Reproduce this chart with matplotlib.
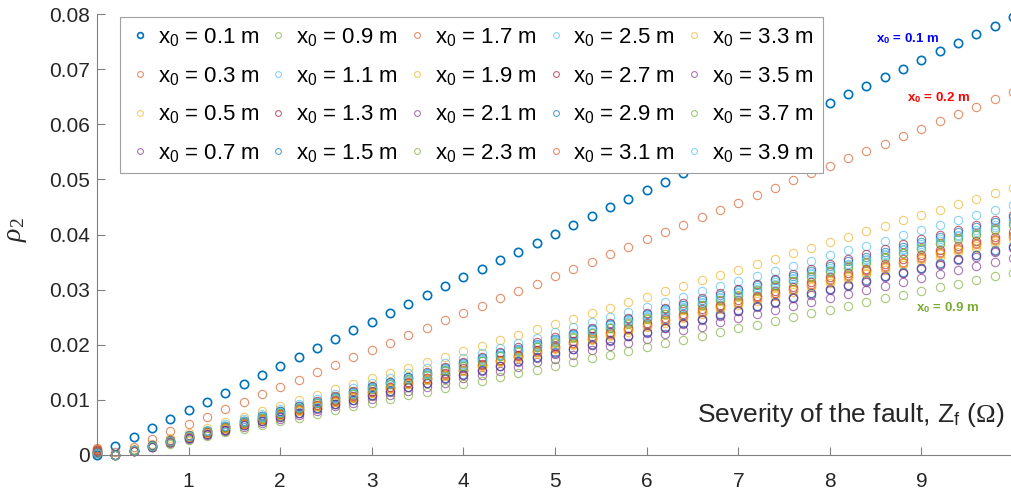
import numpy as np
import matplotlib
matplotlib.use("Agg")
import matplotlib.pyplot as plt

plt.rcParams["font.family"] = ["Liberation Sans", "DejaVu Sans"]
plt.rcParams["mathtext.fontset"] = "custom"
plt.rcParams["mathtext.rm"] = "Liberation Serif"
plt.rcParams["mathtext.it"] = "Liberation Serif:italic"
plt.rcParams["mathtext.sf"] = "Liberation Sans"
plt.rcParams["mathtext.bf"] = "Liberation Sans:bold"

# fault impedance Z_f (ohm)
z_f = [0, 0.2, 0.4, 0.6, 0.8, 1.0, 1.2, 1.4, 1.6, 1.8, 2.0, 2.2, 2.4, 2.6, 2.8,
       3.0, 3.2, 3.4, 3.6, 3.8, 4.0, 4.2, 4.4, 4.6, 4.8, 5.0, 5.2, 5.4, 5.6, 5.8,
       6.0, 6.2, 6.4, 6.6, 6.8, 7.0, 7.2, 7.4, 7.6, 7.8, 8.0, 8.2, 8.4, 8.6, 8.8,
       9.0, 9.2, 9.4, 9.6, 9.8, 10.0]

# rho_2 values, in units of 1e-4
rho_01 = [0, 16, 32, 49, 65, 81, 97, 113, 129, 145, 161, 177, 194, 210, 226, 242, 258, 274, 290, 306, 322, 338, 353, 369, 385, 401, 417, 433, 449, 465, 481, 496, 512, 528, 544, 560, 575, 591, 607, 623, 638, 654, 670, 686, 701, 717, 732, 748, 764, 779, 795]
rho_03 = [12, 6, 15, 29, 43, 56, 69, 83, 96, 110, 123, 136, 150, 163, 177, 190, 203, 217, 230, 244, 257, 270, 284, 297, 311, 324, 337, 351, 364, 378, 391, 404, 418, 431, 445, 458, 471, 485, 498, 512, 525, 538, 552, 565, 579, 592, 605, 619, 632, 646, 659]
rho_05 = [8, 0, 10, 20, 30, 40, 49, 59, 69, 79, 89, 99, 109, 119, 129, 139, 148, 158, 168, 178, 188, 198, 208, 218, 228, 238, 247, 257, 267, 277, 287, 297, 307, 317, 327, 336, 346, 356, 366, 376, 386, 396, 406, 416, 426, 435, 445, 455, 465, 475, 485]
rho_07 = [5, 0, 7, 15, 22, 29, 36, 44, 51, 58, 66, 73, 80, 88, 95, 102, 109, 117, 124, 131, 139, 146, 153, 160, 168, 175, 182, 190, 197, 204, 211, 219, 226, 233, 241, 248, 255, 263, 270, 277, 284, 292, 299, 306, 314, 321, 328, 335, 343, 350, 357]
rho_09 = [4, 0, 7, 14, 20, 27, 34, 41, 47, 54, 61, 68, 74, 81, 88, 95, 101, 108, 115, 122, 128, 135, 142, 149, 155, 162, 169, 176, 182, 189, 196, 203, 209, 216, 223, 230, 236, 243, 250, 257, 263, 270, 277, 284, 290, 297, 304, 311, 317, 324, 331]
rho_11 = [7, 0, 9, 19, 28, 37, 46, 56, 65, 74, 83, 93, 102, 111, 121, 130, 139, 148, 158, 167, 176, 185, 195, 204, 213, 223, 232, 241, 250, 260, 269, 278, 287, 297, 306, 315, 324, 334, 343, 352, 362, 371, 380, 389, 399, 408, 417, 426, 436, 445, 454]
rho_13 = [9, 0, 9, 18, 27, 36, 44, 53, 62, 71, 80, 89, 98, 107, 116, 125, 133, 142, 151, 160, 169, 178, 187, 196, 205, 214, 222, 231, 240, 249, 258, 267, 276, 285, 294, 302, 311, 320, 329, 338, 347, 356, 365, 374, 383, 391, 400, 409, 418, 427, 436]
rho_15 = [6, 0, 9, 18, 26, 35, 44, 53, 62, 70, 79, 88, 97, 106, 114, 123, 132, 141, 149, 158, 167, 176, 185, 193, 202, 211, 220, 229, 237, 246, 255, 264, 273, 281, 290, 299, 308, 317, 325, 334, 343, 352, 360, 369, 378, 387, 396, 404, 413, 422, 431]
rho_17 = [10, 0, 8, 16, 24, 33, 41, 49, 57, 65, 73, 81, 89, 98, 106, 114, 122, 130, 138, 146, 154, 163, 171, 179, 187, 195, 203, 211, 219, 228, 236, 244, 252, 260, 268, 276, 284, 293, 301, 309, 317, 325, 333, 341, 349, 358, 366, 374, 382, 390, 398]
rho_19 = [5, 0, 8, 16, 24, 32, 40, 48, 56, 64, 72, 80, 88, 96, 104, 112, 120, 128, 136, 144, 152, 160, 168, 176, 184, 192, 200, 208, 216, 224, 232, 240, 248, 256, 264, 272, 280, 288, 296, 304, 312, 320, 328, 336, 344, 352, 360, 368, 376, 384, 392]
rho_21 = [4, 0, 8, 15, 23, 31, 39, 46, 54, 62, 69, 77, 85, 93, 100, 108, 116, 123, 131, 139, 146, 154, 162, 170, 177, 185, 193, 200, 208, 216, 224, 231, 239, 247, 254, 262, 270, 278, 285, 293, 301, 308, 316, 324, 331, 339, 347, 355, 362, 370, 378]
rho_23 = [6, 0, 9, 17, 26, 34, 43, 51, 60, 68, 77, 85, 94, 102, 111, 119, 128, 136, 145, 153, 162, 170, 179, 187, 196, 204, 213, 221, 230, 238, 247, 255, 264, 272, 281, 289, 298, 306, 315, 323, 332, 340, 349, 357, 366, 374, 383, 391, 400, 408, 417]
rho_25 = [7, 0, 9, 17, 26, 35, 43, 52, 60, 69, 78, 86, 95, 104, 112, 121, 129, 138, 147, 155, 164, 173, 181, 190, 198, 207, 216, 224, 233, 242, 250, 259, 267, 276, 285, 293, 302, 311, 319, 328, 336, 345, 354, 362, 371, 380, 388, 397, 405, 414, 423]
rho_27 = [8, 0, 8, 17, 25, 33, 41, 50, 58, 66, 74, 83, 91, 99, 107, 116, 124, 132, 140, 149, 157, 165, 173, 182, 190, 198, 206, 215, 223, 231, 239, 248, 256, 264, 272, 281, 289, 297, 305, 314, 322, 330, 338, 347, 355, 363, 371, 380, 388, 396, 404]
rho_29 = [3, 0, 8, 15, 23, 31, 39, 46, 54, 62, 70, 77, 85, 93, 100, 108, 116, 124, 131, 139, 147, 155, 162, 170, 178, 186, 193, 201, 209, 216, 224, 232, 240, 247, 255, 263, 271, 278, 286, 294, 301, 309, 317, 325, 332, 340, 348, 356, 363, 371, 379]
rho_31 = [9, 0, 8, 16, 25, 33, 41, 49, 57, 65, 74, 82, 90, 98, 106, 114, 123, 131, 139, 147, 155, 163, 172, 180, 188, 196, 204, 212, 221, 229, 237, 245, 253, 261, 270, 278, 286, 294, 302, 310, 319, 327, 335, 343, 351, 359, 368, 376, 384, 392, 400]
rho_33 = [6, 0, 8, 16, 24, 32, 40, 49, 57, 65, 73, 81, 89, 97, 105, 113, 121, 129, 137, 146, 154, 162, 170, 178, 186, 194, 202, 210, 218, 226, 234, 243, 251, 259, 267, 275, 283, 291, 299, 307, 315, 323, 331, 340, 348, 356, 364, 372, 380, 388, 396]
rho_35 = [5, 0, 8, 15, 23, 31, 38, 46, 54, 61, 69, 77, 84, 92, 100, 107, 115, 123, 130, 138, 146, 153, 161, 169, 176, 184, 192, 199, 207, 215, 222, 230, 238, 245, 253, 261, 268, 276, 284, 291, 299, 307, 314, 322, 330, 337, 345, 353, 360, 368, 376]
rho_37 = [4, 0, 9, 17, 26, 34, 43, 51, 60, 68, 77, 85, 94, 103, 111, 120, 128, 137, 145, 154, 162, 171, 179, 188, 196, 205, 214, 222, 231, 239, 248, 256, 265, 273, 282, 290, 299, 308, 316, 325, 333, 342, 350, 359, 367, 376, 384, 393, 401, 410, 419]
rho_39 = [3, 0, 9, 17, 26, 35, 43, 52, 61, 70, 78, 87, 96, 104, 113, 122, 130, 139, 148, 156, 165, 174, 182, 191, 200, 209, 217, 226, 235, 243, 252, 261, 269, 278, 287, 295, 304, 313, 321, 330, 339, 347, 356, 365, 374, 382, 391, 400, 408, 417, 426]

x0_values = ["0.1", "0.3", "0.5", "0.7", "0.9", "1.1", "1.3", "1.5", "1.7", "1.9",
             "2.1", "2.3", "2.5", "2.7", "2.9", "3.1", "3.3", "3.5", "3.7", "3.9"]

series = [rho_01, rho_03, rho_05, rho_07, rho_09, rho_11, rho_13, rho_15, rho_17, rho_19,
          rho_21, rho_23, rho_25, rho_27, rho_29, rho_31, rho_33, rho_35, rho_37, rho_39]

# matlab default color order
colors = ["#0072BD", "#D95319", "#EDB120", "#7E2F8E", "#77AC30", "#4DBEEE", "#A2142F"]

fig = plt.figure(figsize=(10.11, 4.96), dpi=100)
ax = fig.add_axes([97 / 1011, 41 / 496, 916 / 1011, 441 / 496])

for i, vals in enumerate(series):
    c = colors[i % len(colors)]
    label = "x$_\\mathsf{0}$ = " + x0_values[i] + " m"
    if i == 0:
        ax.plot(z_f, np.array(vals) / 1e4, "o", mfc="none", mec=c, ms=6, mew=1.2,
                clip_on=False, label=label)
    else:
        ax.plot(z_f, np.array(vals) / 1e4, "o", mfc="none", mec=c, ms=6, mew=0.8,
                alpha=0.65, clip_on=False, label=label)

ax.set_xlim(0, 10)
ax.set_ylim(0, 0.08)
ax.set_xticks(range(1, 10))
ax.set_yticks([0, 0.01, 0.02, 0.03, 0.04, 0.05, 0.06, 0.07, 0.08])
ax.set_yticklabels(["0", "0.01", "0.02", "0.03", "0.04", "0.05", "0.06", "0.07", "0.08"])

for s in ["top", "right"]:
    ax.spines[s].set_visible(False)
for s in ["left", "bottom"]:
    ax.spines[s].set_color("#808080")
    ax.spines[s].set_linewidth(0.8)

ax.tick_params(direction="in", length=6, width=0.8, color="#808080",
               labelsize=15, labelcolor="#262626")
ax.tick_params(axis="x", pad=12)
ax.tick_params(axis="y", pad=5)

ax.set_ylabel(r"$\rho_2$", fontsize=20, color="#262626")
ax.yaxis.set_label_coords(-0.074, 0.51)

ax.text(0.991, 0.075, r"Severity of the fault, Z$_\mathsf{f}$ ($\Omega$)",
        transform=ax.transAxes, ha="right", va="baseline", fontsize=19, color="#262626")

leg = ax.legend(ncol=5, loc="upper left", bbox_to_anchor=(0.025, 0.993), fontsize=16,
                frameon=True, fancybox=False, edgecolor="#A0A0A0", framealpha=1,
                markerscale=0.7, handlelength=1.0, handletextpad=0.3,
                columnspacing=0.35, labelspacing=0.75, borderpad=0.4, borderaxespad=0)
leg.get_frame().set_linewidth(0.8)

# annotations
ax.text(8.50, 0.0755, r"x$_\mathbf{0}$ = 0.1 m", color="#0000FF", fontsize=9.5,
        fontweight="bold", va="center")
ax.text(8.84, 0.0648, r"x$_\mathbf{0}$ = 0.2 m", color="#FF0000", fontsize=9.5,
        fontweight="bold", va="center")
ax.text(8.94, 0.0268, r"x$_\mathbf{0}$ = 0.9 m", color="#77AC30", fontsize=9.5,
        fontweight="bold", va="center")

fig.savefig("out.png", dpi=100)
